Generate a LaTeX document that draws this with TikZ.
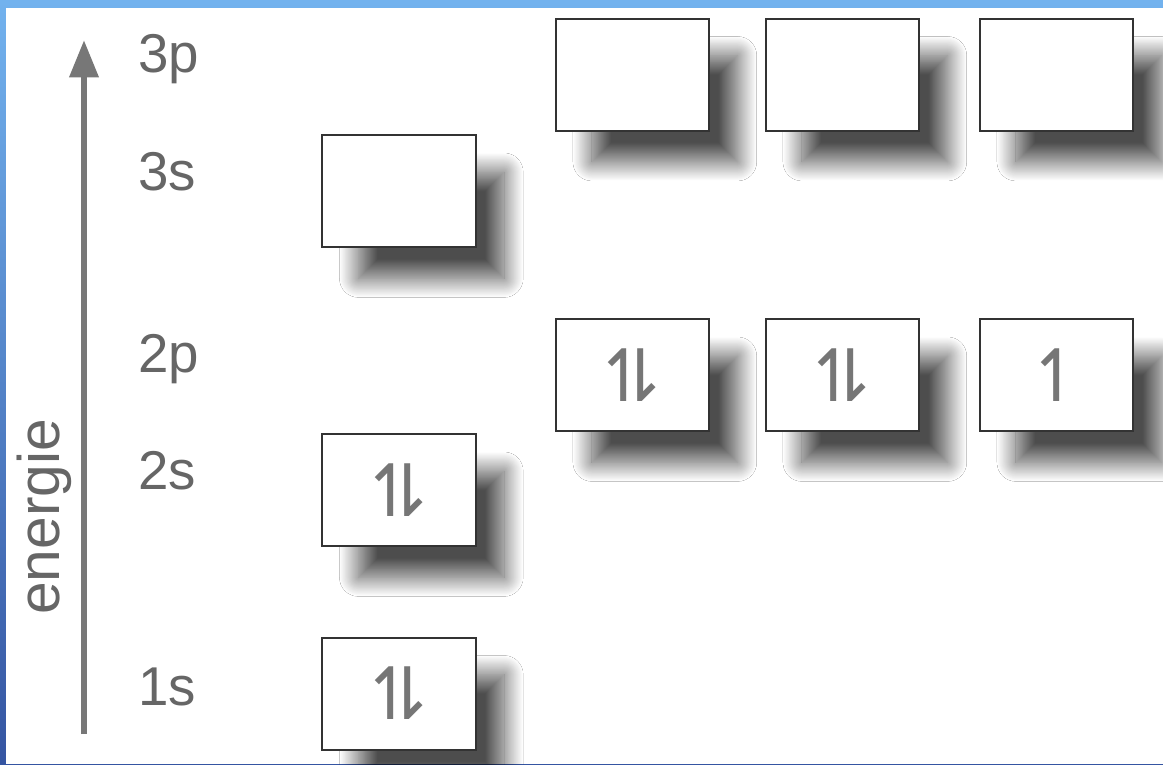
\documentclass[tikz,border=0pt]{standalone}
\usepackage{fontspec}
\setmainfont{Liberation Sans}
\newfontfamily\dejavu{DejaVu Sans}
\usetikzlibrary{shadows.blur,arrows.meta}
\definecolor{topblue}{HTML}{72B2EE}
\definecolor{botblue}{HTML}{3555A2}
\definecolor{txtgray}{HTML}{666666}
\definecolor{arrgray}{HTML}{777777}
\definecolor{boxline}{HTML}{333333}
\definecolor{spin}{HTML}{767676}
\newcommand{\updown}{↿\kern-0.6em⇂}
\tikzset{
  orb/.style={draw=boxline, line width=1.5pt, fill=white,
    minimum width=115pt, minimum height=84pt, inner sep=0pt,
    blur shadow={shadow xshift=25.5pt, shadow yshift=-27pt, shadow scale=0.95,
      shadow blur radius=15pt, shadow blur steps=40, shadow blur extra rounding=0pt,
      shadow opacity=70},
    font=\dejavu\fontsize{54}{54}\selectfont, text=spin},
  lab/.style={anchor=base west, inner sep=0pt, text=txtgray, font=\fontsize{41}{41}\selectfont},
}
\begin{document}
\begin{tikzpicture}[x=0.75pt,y=-0.75pt]
\useasboundingbox (0,0) rectangle (1163,764);
\shade[top color=topblue, bottom color=botblue] (0,0) rectangle (1163,764);
\fill[white] (6,8) rectangle (1163,764);
% energy arrow
\coordinate (abot) at (84,734);
\coordinate (atop) at (84,40);
\draw[line width=5pt, arrgray, -{Triangle[width=21pt,length=28pt]}] (abot) -- (atop);
\node[rotate=90, anchor=base west, inner sep=0pt, text=txtgray, font=\fontsize{44}{44}\selectfont] (en) at (59,615) {energie};
% level labels
\node[lab] (l3p) at (138,72) {3p};
\node[lab] (l3s) at (138,190) {3s};
\node[lab] (l2p) at (138,372) {2p};
\node[lab] (l2s) at (138,489) {2s};
\node[lab] (l1s) at (138,705) {1s};
% orbitals
\node[orb] (p3a) at (632.5,74.5) {};
\node[orb] (p3b) at (842.5,74.5) {};
\node[orb] (p3c) at (1056.5,74.5) {};
\node[orb] (s3) at (399,191) {};
\node[orb] (p2a) at (632.5,375) {\updown};
\node[orb] (p2b) at (842.5,375) {\updown};
\node[orb] (p2c) at (1056.5,375) {↿};
\node[orb] (s2) at (399,490) {\updown};
\node[orb] (s1) at (399,693.5) {\updown};
\end{tikzpicture}
\end{document}
